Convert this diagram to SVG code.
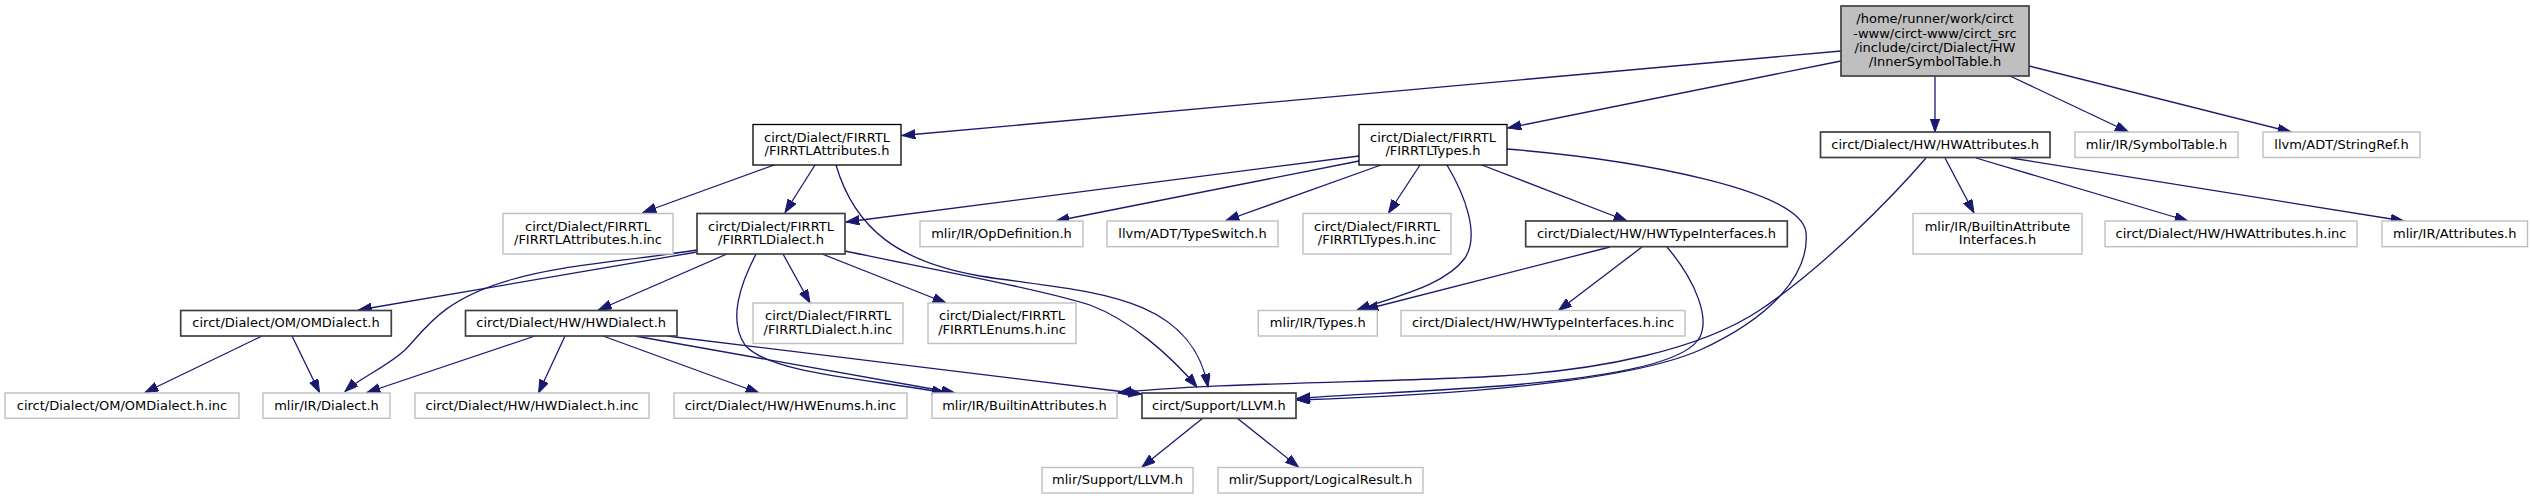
<svg xmlns="http://www.w3.org/2000/svg" width="2532" height="499" viewBox="0 0 2532 499">
<style>
text{font-family:"DejaVu Sans","Liberation Sans",sans-serif;font-size:13px;fill:#000;text-anchor:middle}
rect.b{fill:#fff;stroke:#000;stroke-width:1.3}
rect.d{fill:#fff;stroke:#404040;stroke-width:1.7}
rect.g{fill:#fff;stroke:#bfbfbf;stroke-width:1.4}
rect.r{fill:#bfbfbf;stroke:#404040;stroke-width:1.7}
#edges path{fill:none;stroke:#191970;stroke-width:1.3;marker-end:url(#ah)}
</style>
<defs>
<marker id="ah" markerUnits="userSpaceOnUse" markerWidth="14" markerHeight="10" viewBox="0 0 14 10" refX="13.3" refY="4.7" orient="auto">
<path d="M0,0 L13.3,4.7 L0,9.4 Z" fill="#191970" stroke="#191970" stroke-width="1"/>
</marker>
</defs>
<rect x="0" y="0" width="2532" height="499" fill="#fff"/>
<g id="edges">
<path d="M1841,51 L902,135.5"/>
<path d="M1841,61 L1508,128"/>
<path d="M1935,76 L1935,132"/>
<path d="M2010,76 L2128.5,132"/>
<path d="M2029,66 L2291,132"/>
<path d="M774,165 L643,212.5"/>
<path d="M815,165 L785,212.5"/>
<path d="M836,165 C855,230 900,262 980,276 C1080,292 1190,290 1208,387"/>
<path d="M1359,156 L846,222"/>
<path d="M1359,161 L1056,221"/>
<path d="M1381,165 L1226,220.5"/>
<path d="M1420,165 L1388.5,213"/>
<path d="M1447,165 C1465,195 1480,235 1465,258 C1445,285 1400,295 1357,310"/>
<path d="M1482,165 L1627,221"/>
<path d="M1507,149 C1640,160 1800,190 1806,232 C1810,275 1770,318 1700,350 C1620,385 1420,396 1297,400"/>
<path d="M1945,158 L1974,213"/>
<path d="M1976,158 L2188,221"/>
<path d="M2011,158 L2404,221"/>
<path d="M1926,158 C1890,200 1820,270 1760,310 C1700,350 1600,370 1500,376 C1400,382 1200,383 1118,393"/>
<path d="M1610,247 L1365,309.5"/>
<path d="M1642,247 L1558.5,310.5"/>
<path d="M1667,247 C1695,280 1712,320 1698,340 C1680,365 1600,378 1500,386 C1420,392 1340,395 1297,398.5"/>
<path d="M697,252 L358.5,310"/>
<path d="M697,250 C620,262 560,265 510,280 C440,300 425,330 405,350 C385,368 360,378 345,391.5"/>
<path d="M727,254 L598.5,310"/>
<path d="M756,254 C740,285 728,320 745,345 C770,375 880,380 945,393"/>
<path d="M783,254 L810,303"/>
<path d="M822,254 L946,303"/>
<path d="M845,251 C930,269 1040,289 1090,305 C1130,320 1170,355 1197,387"/>
<path d="M262,336 L145,392.5"/>
<path d="M292,336 L319.5,392.5"/>
<path d="M535,336 L367,392.5"/>
<path d="M565,336 L538.5,393"/>
<path d="M603,336 L759,393"/>
<path d="M635,336 L955,393"/>
<path d="M667,336 L1141.5,394"/>
<path d="M1203,418 L1142,467"/>
<path d="M1237,418 L1298.5,467"/>
</g>
<g id="n_root"><rect class="r" x="1841" y="6" width="188" height="70"/><text x="1935" y="23.3">/home/runner/work/circt</text><text x="1935" y="37.6">-www/circt-www/circt_src</text><text x="1935" y="51.8">/include/circt/Dialect/HW</text><text x="1935" y="66">/InnerSymbolTable.h</text></g>
<g id="n_firrtlattributes"><rect class="b" x="753" y="124.5" width="148" height="40.5"/><text x="827" y="141.5">circt/Dialect/FIRRTL</text><text x="827" y="155">/FIRRTLAttributes.h</text></g>
<g id="n_firrtltypes"><rect class="b" x="1359" y="124.5" width="148" height="40.5"/><text x="1433" y="141.5">circt/Dialect/FIRRTL</text><text x="1433" y="155">/FIRRTLTypes.h</text></g>
<g id="n_hwattributes"><rect class="d" x="1820.5" y="132" width="229.5" height="25.5"/><text x="1935.2" y="148.5">circt/Dialect/HW/HWAttributes.h</text></g>
<g id="n_symboltable"><rect class="g" x="2075" y="132" width="163" height="25.5"/><text x="2156.5" y="148.5">mlir/IR/SymbolTable.h</text></g>
<g id="n_stringref"><rect class="g" x="2263" y="132" width="157" height="25.5"/><text x="2341.5" y="148.5">llvm/ADT/StringRef.h</text></g>
<g id="n_firrtlattributes_inc"><rect class="g" x="503" y="213.5" width="170" height="40.5"/><text x="588" y="230.5">circt/Dialect/FIRRTL</text><text x="588" y="244">/FIRRTLAttributes.h.inc</text></g>
<g id="n_firrtldialect"><rect class="d" x="697" y="213.5" width="148" height="40.5"/><text x="771" y="230.5">circt/Dialect/FIRRTL</text><text x="771" y="244">/FIRRTLDialect.h</text></g>
<g id="n_opdefinition"><rect class="g" x="920" y="221" width="163" height="25.7"/><text x="1001.5" y="237.5">mlir/IR/OpDefinition.h</text></g>
<g id="n_typeswitch"><rect class="g" x="1107" y="221" width="171" height="25.7"/><text x="1192.5" y="237.5">llvm/ADT/TypeSwitch.h</text></g>
<g id="n_firrtltypes_inc"><rect class="g" x="1303" y="213.5" width="148" height="40.5"/><text x="1377" y="230.5">circt/Dialect/FIRRTL</text><text x="1377" y="244">/FIRRTLTypes.h.inc</text></g>
<g id="n_hwtypeinterfaces"><rect class="d" x="1525.7" y="221" width="261.6" height="25.7"/><text x="1656.5" y="237.5">circt/Dialect/HW/HWTypeInterfaces.h</text></g>
<g id="n_builtinattributeinterfaces"><rect class="g" x="1913" y="213.5" width="169" height="40.5"/><text x="1997.5" y="230.5">mlir/IR/BuiltinAttribute</text><text x="1997.5" y="244">Interfaces.h</text></g>
<g id="n_hwattributes_inc"><rect class="g" x="2105" y="221" width="252" height="25.7"/><text x="2231" y="237.5">circt/Dialect/HW/HWAttributes.h.inc</text></g>
<g id="n_attributes"><rect class="g" x="2382" y="221" width="145.5" height="25.7"/><text x="2454.7" y="237.5">mlir/IR/Attributes.h</text></g>
<g id="n_omdialect"><rect class="d" x="180.7" y="310.5" width="210.6" height="25.5"/><text x="286" y="327">circt/Dialect/OM/OMDialect.h</text></g>
<g id="n_hwdialect"><rect class="d" x="465.5" y="310.5" width="211.5" height="25.5"/><text x="571.2" y="327">circt/Dialect/HW/HWDialect.h</text></g>
<g id="n_firrtldialect_inc"><rect class="g" x="753" y="303" width="150" height="40.5"/><text x="828" y="320">circt/Dialect/FIRRTL</text><text x="828" y="333.5">/FIRRTLDialect.h.inc</text></g>
<g id="n_firrtlenums_inc"><rect class="g" x="928" y="303" width="148" height="40.5"/><text x="1002" y="320">circt/Dialect/FIRRTL</text><text x="1002" y="333.5">/FIRRTLEnums.h.inc</text></g>
<g id="n_types"><rect class="g" x="1258.3" y="310.5" width="119" height="25.5"/><text x="1317.8" y="327">mlir/IR/Types.h</text></g>
<g id="n_hwtypeinterfaces_inc"><rect class="g" x="1401" y="310.5" width="284" height="25.5"/><text x="1543" y="327">circt/Dialect/HW/HWTypeInterfaces.h.inc</text></g>
<g id="n_omdialect_inc"><rect class="g" x="5" y="393" width="234" height="25.3"/><text x="122" y="409.5">circt/Dialect/OM/OMDialect.h.inc</text></g>
<g id="n_dialect"><rect class="g" x="263" y="393" width="127" height="25.3"/><text x="326.5" y="409.5">mlir/IR/Dialect.h</text></g>
<g id="n_hwdialect_inc"><rect class="g" x="415" y="393" width="234" height="25.3"/><text x="532" y="409.5">circt/Dialect/HW/HWDialect.h.inc</text></g>
<g id="n_hwenums_inc"><rect class="g" x="674" y="393" width="233" height="25.3"/><text x="790.5" y="409.5">circt/Dialect/HW/HWEnums.h.inc</text></g>
<g id="n_builtinattributes"><rect class="g" x="932" y="393" width="185" height="25.3"/><text x="1024.5" y="409.5">mlir/IR/BuiltinAttributes.h</text></g>
<g id="n_circt_llvm"><rect class="d" x="1142" y="393" width="154" height="25.3"/><text x="1219" y="409.5">circt/Support/LLVM.h</text></g>
<g id="n_mlir_llvm"><rect class="g" x="1042" y="467.5" width="151" height="25.5"/><text x="1117.5" y="484">mlir/Support/LLVM.h</text></g>
<g id="n_logicalresult"><rect class="g" x="1218" y="467.5" width="205" height="25.5"/><text x="1320.5" y="484">mlir/Support/LogicalResult.h</text></g>
</svg>
